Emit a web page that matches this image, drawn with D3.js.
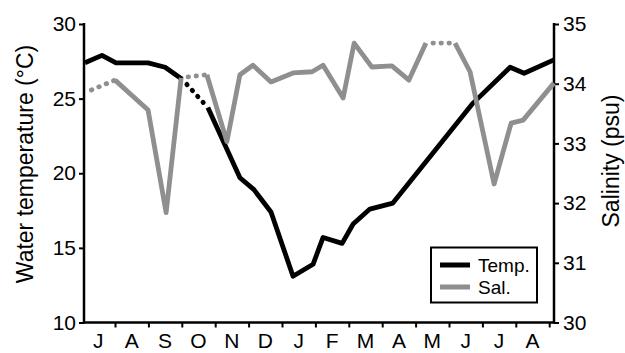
<!DOCTYPE html>
<html>
<head>
<meta charset="utf-8">
<script src="https://cdn.jsdelivr.net/npm/d3@7"></script>
<style>
  html, body { margin: 0; padding: 0; background: #fff; }
  svg { display: block; font-family: "Liberation Sans", Arial, sans-serif; }
</style>
</head>
<body>
<svg id="chart" width="625" height="353"></svg>
<script>
// Month labels along the bottom (July through the following August)
const monthLabels = ["J", "A", "S", "O", "N", "D", "J", "F", "M", "A", "M", "J", "J", "A"];

// Water temperature: sampling time (months from start of July) and value (°C)
const tempTime  = [0.10, 0.61, 1.03, 1.99, 2.50, 3.01, 3.78, 4.74, 5.16, 5.67, 6.33,
                   6.93, 7.23, 7.80, 8.13, 8.63, 9.32, 11.72, 12.83, 13.25, 14.14];
const tempValue = [27.4, 27.9, 27.4, 27.4, 27.1, 26.3, 24.4, 19.7, 18.9, 17.4, 13.1,
                   13.9, 15.7, 15.3, 16.6, 17.6, 18.0, 24.7, 27.1, 26.7, 27.6];
// segments (start index) with missing samples, drawn dotted
const tempGaps = [5];

// Salinity: sampling time (months from start of July) and value (psu)
const salTime  = [0.10, 1.00, 1.99, 2.53, 2.98, 3.75, 4.35, 4.74, 5.13, 5.67, 6.33, 6.90,
                  7.23, 7.83, 8.16, 8.69, 9.29, 9.80, 10.31, 11.18, 11.63, 12.35, 12.86, 13.22, 14.14];
const salValue = [33.85, 34.06, 33.56, 31.84, 34.10, 34.15, 33.03, 34.15, 34.31, 34.03, 34.18, 34.20,
                  34.31, 33.76, 34.68, 34.28, 34.30, 34.06, 34.68, 34.68, 34.20, 32.32, 33.34, 33.39, 34.01];
const salGaps = [0, 4, 18];

const tempTicks = [10, 15, 20, 25, 30];
const salTicks = [30, 31, 32, 33, 34, 35];

const svg = d3.select("#chart");

const plotLeft = 84, plotRight = 554, plotTop = 24, plotBottom = 322.5;

const x = d3.scaleLinear().domain([0, 14]).range([81.6, 549.2]);
const yT = d3.scaleLinear().domain([10, 30]).range([plotBottom, plotTop]);
const yS = d3.scaleLinear().domain([30, 35]).range([plotBottom, plotTop]);

const INK = "#000";
const GREY = "#8f8f8f";

// --- axes ---
const axisG = svg.append("g");

// left axis
const gl = axisG.append("g").attr("transform", `translate(${plotLeft},0)`)
  .call(d3.axisLeft(yT).tickValues(tempTicks).tickSize(5).tickPadding(3).tickFormat(d3.format("d")));
// right axis
const gr = axisG.append("g").attr("transform", `translate(${plotRight},0)`)
  .call(d3.axisRight(yS).tickValues(salTicks).tickSize(5).tickPadding(4).tickFormat(d3.format("d")));
// bottom axis: ticks at month boundaries
const gb = axisG.append("g").attr("transform", `translate(0,${plotBottom})`)
  .call(d3.axisBottom(x).tickValues(d3.range(1, 15)).tickSize(5).tickFormat(""));

[gl, gr, gb].forEach(g => {
  g.select(".domain").remove();
  g.selectAll(".tick line").attr("stroke", INK).attr("stroke-width", 2);
  g.selectAll(".tick text").attr("fill", INK).attr("font-size", 21)
    .attr("font-family", "Liberation Sans, Arial, sans-serif");
});

// axis lines
axisG.append("line").attr("x1", plotLeft).attr("x2", plotLeft).attr("y1", plotTop - 1).attr("y2", plotBottom + 1)
  .attr("stroke", INK).attr("stroke-width", 2.5);
axisG.append("line").attr("x1", plotRight).attr("x2", plotRight).attr("y1", plotTop - 1).attr("y2", plotBottom + 1)
  .attr("stroke", INK).attr("stroke-width", 2.5);
axisG.append("line").attr("x1", plotLeft).attr("x2", plotRight).attr("y1", plotBottom).attr("y2", plotBottom)
  .attr("stroke", INK).attr("stroke-width", 2.5);

// month labels centred in each month
svg.append("g").selectAll("text").data(monthLabels).join("text")
  .attr("x", (d, i) => x(i + 0.5))
  .attr("y", 348)
  .attr("text-anchor", "middle")
  .attr("font-size", 21)
  .attr("fill", INK)
  .text(d => d);

// axis titles
svg.append("text")
  .attr("transform", `translate(33,164) rotate(-90)`)
  .attr("text-anchor", "middle")
  .attr("font-size", 23)
  .attr("fill", INK)
  .text("Water temperature (°C)");
svg.append("text")
  .attr("transform", `translate(619,161) rotate(-90)`)
  .attr("text-anchor", "middle")
  .attr("font-size", 23)
  .attr("fill", INK)
  .text("Salinity (psu)");

// --- series ---
// split a series into solid runs and dotted (gap) runs
function runs(times, values, gaps) {
  const pts = times.map((t, i) => ({ t, v: values[i] }));
  const out = [];
  let cur = null;
  for (let i = 0; i < pts.length - 1; i++) {
    const dotted = gaps.includes(i);
    if (!cur || cur.dotted !== dotted) {
      cur = { dotted, pts: [pts[i]] };
      out.push(cur);
    }
    cur.pts.push(pts[i + 1]);
  }
  return out;
}

function drawSeries(times, values, gaps, yScale, color) {
  const line = d3.line().x(d => x(d.t)).y(d => yScale(d.v));
  const g = svg.append("g");
  runs(times, values, gaps).forEach(r => {
    g.append("path")
      .attr("d", line(r.pts))
      .attr("fill", "none")
      .attr("stroke", color)
      .attr("stroke-width", 4.8)
      .attr("stroke-linejoin", "round")
      .attr("stroke-linecap", r.dotted ? "round" : "butt")
      .attr("stroke-dasharray", r.dotted ? "0.5,7.5" : null)
      .attr("stroke-dashoffset", r.dotted ? -7 : null);
  });
}

drawSeries(tempTime, tempValue, tempGaps, yT, INK);
drawSeries(salTime, salValue, salGaps, yS, GREY);

// --- legend ---
const lg = svg.append("g");
lg.append("rect").attr("x", 431).attr("y", 247.5).attr("width", 106).attr("height", 55)
  .attr("fill", "#fff").attr("stroke", INK).attr("stroke-width", 2);
const legendItems = [
  { name: "Temp.", color: INK, y: 265 },
  { name: "Sal.", color: GREY, y: 287 }
];
legendItems.forEach(it => {
  lg.append("line").attr("x1", 440).attr("x2", 470).attr("y1", it.y).attr("y2", it.y)
    .attr("stroke", it.color).attr("stroke-width", 5);
  lg.append("text").attr("x", 478).attr("y", it.y + 6.5)
    .attr("font-size", 19).attr("fill", INK).text(it.name);
});
</script>
</body>
</html>
